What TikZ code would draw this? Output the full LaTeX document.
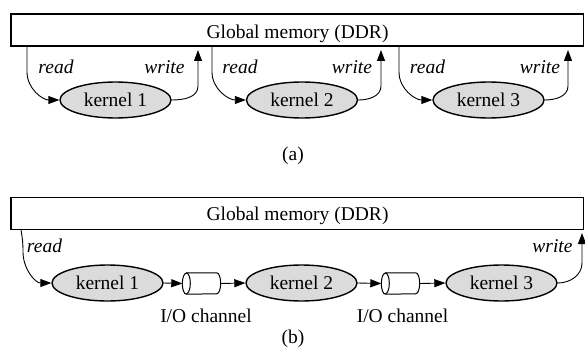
\documentclass[tikz,border=0pt]{standalone}
\usepackage{fontspec}
\setmainfont{Liberation Serif}
\usetikzlibrary{shapes.geometric,arrows.meta,calc}
% horizontal FIFO cylinder drawn on the anchors of a plain node
\newcommand\drawchan[1]{%
  \draw[line width=1pt,fill=white]
    ([xshift=4pt]#1.north west) -- ([xshift=-4pt]#1.north east)
    arc[start angle=90,end angle=-90,x radius=4pt,y radius=10.5pt]
    -- ([xshift=4pt]#1.south west)
    arc[start angle=-90,end angle=-270,x radius=4pt,y radius=10.5pt] -- cycle;
  \draw[line width=1pt] ([xshift=4pt]#1.north west)
    arc[start angle=90,end angle=-90,x radius=4pt,y radius=10.5pt];}
\begin{document}
\begin{tikzpicture}[x=1pt,y=-1pt,
  every node/.style={font=\fontsize{19.5}{22}\selectfont},
  membox/.style={draw,line width=1.8pt,minimum width=572.5pt,minimum height=32pt,inner sep=0pt},
  kernel/.style={draw,ellipse,fill=black!14,line width=1.4pt,minimum width=111pt,minimum height=36pt,inner sep=0pt},
  chan/.style={minimum width=38pt,minimum height=21pt,inner sep=0pt},
  conn/.style={line width=0.9pt,-{Triangle[length=11pt,width=8pt]}},
  lab/.style={anchor=base,font=\fontsize{19.5}{22}\selectfont\itshape},
  txt/.style={anchor=base}]
\useasboundingbox (0,0) rectangle (585,350);

% ---------------- (a) kernels through global memory ----------------
\node[membox] (memA) at (297.25,30) {};
\node[txt] (memAt) at (297.5,39) {Global memory (DDR)};

\node[kernel] (a1) at (115.5,100) {kernel 1};
\node[kernel] (a2) at (302,100) {kernel 2};
\node[kernel] (a3) at (488.5,100) {kernel 3};

\coordinate (ra1) at (27,46);   \coordinate (wa1) at (198,50);
\coordinate (ra2) at (212,46);  \coordinate (wa2) at (381,50);
\coordinate (ra3) at (399,46);  \coordinate (wa3) at (568,50);

\draw[conn] (ra1) -- ++(0,26) to[out=-90,in=180] (a1.west);
\draw[conn] (ra2) -- ++(0,26) to[out=-90,in=180] (a2.west);
\draw[conn] (ra3) -- ++(0,26) to[out=-90,in=180] (a3.west);
\draw[conn] (a1.east) to[out=0,in=-90] ($(wa1)+(0,36)$) -- (wa1);
\draw[conn] (a2.east) to[out=0,in=-90] ($(wa2)+(0,36)$) -- (wa2);
\draw[conn] (a3.east) to[out=0,in=-90] ($(wa3)+(0,36)$) -- (wa3);

\node[lab] (lra1) at (56,74) {read};
\node[lab] (lwa1) at (164.5,74) {write};
\node[lab] (lra2) at (240,74) {read};
\node[lab] (lwa2) at (352,74) {write};
\node[lab] (lra3) at (427.5,74) {read};
\node[lab] (lwa3) at (540,74) {write};

\node[txt] (capA) at (293,160) {(a)};

% ---------------- (b) kernels chained by I/O channels ----------------
\node[membox] (memB) at (297.25,213.5) {};
\node[txt] (memBt) at (297.5,220) {Global memory (DDR)};

\node[kernel] (b1) at (107.5,283) {kernel 1};
\node[kernel] (b2) at (301.5,283) {kernel 2};
\node[kernel] (b3) at (501.5,283) {kernel 3};

\node[chan] (c1) at (201.5,283.5) {};
\node[chan] (c2) at (400.5,283.5) {};
\drawchan{c1}
\drawchan{c2}

\draw[conn] (b1.east) -- (c1.west);
\draw[conn] (c1.east) -- (b2.west);
\draw[conn] (b2.east) -- (c2.west);
\draw[conn] (c2.east) -- (b3.west);

\node[txt] (lc1) at (206,322) {I/O channel};
\node[txt] (lc2) at (402.5,322) {I/O channel};

\coordinate (rb) at (21,230);
\coordinate (wb) at (582,233);
\draw[conn] (rb) to[out=-80,in=90] (23,252) to[out=-90,in=180] (b1.west);
\draw[conn] (b3.east) to[out=0,in=-90] ($(wb)+(0,30)$) -- (wb);

\node[lab] (lrb) at (44.5,252) {read};
\node[lab] (lwb) at (552.5,252) {write};

\node[txt] (capB) at (293,343) {(b)};
\end{tikzpicture}
\end{document}
